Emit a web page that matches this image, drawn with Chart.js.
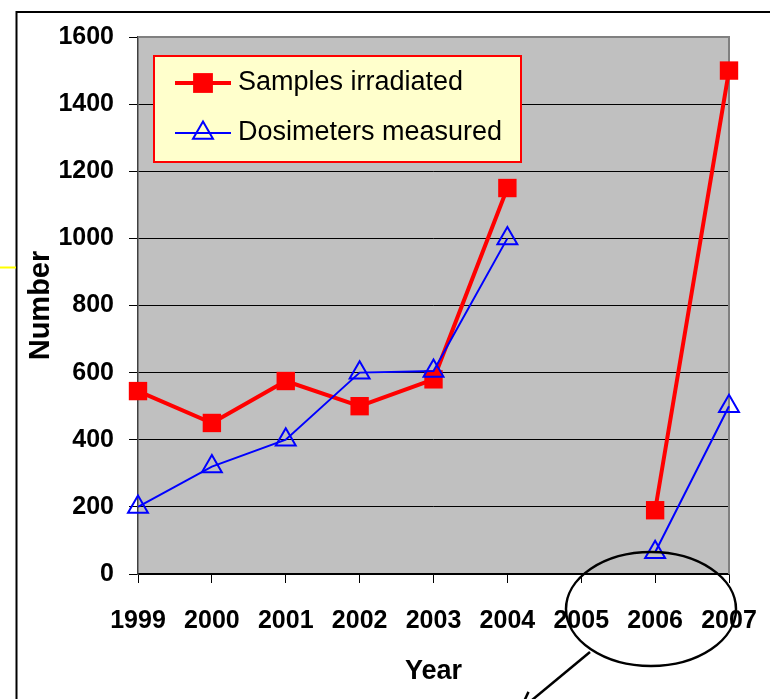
<!DOCTYPE html>
<html>
<head>
<meta charset="utf-8">
<script src="https://cdn.jsdelivr.net/npm/chart.js@4.4.1/dist/chart.umd.min.js"></script>
<style>
  html, body { margin: 0; padding: 0; background: #ffffff; }
  #wrap { width: 770px; height: 699px; position: relative; }
  canvas { display: block; }
</style>
</head>
<body>
<div id="wrap"><canvas id="c" width="770" height="699"></canvas></div>
<script>
// ---- data ----
const years = ['1999', '2000', '2001', '2002', '2003', '2004', '2005', '2006', '2007'];
const samplesIrradiated = [545, 450, 575, 500, 580, 1150, null, 190, 1500];
const dosimetersMeasured = [200, 320, 400, 600, 605, 1000, null, 65, 500];
const yTickValues = [0, 200, 400, 600, 800, 1000, 1200, 1400, 1600];
const seriesLabels = ['Samples irradiated', 'Dosimeters measured'];
const xTitle = 'Year';
const yTitle = 'Number';

const FONT = "'Liberation Sans', Arial, Helvetica, sans-serif";
Chart.defaults.font.family = FONT;
Chart.defaults.color = '#000';

// plot background + border
const plotFrame = {
  id: 'plotFrame',
  beforeDraw(chart) {
    const { ctx, chartArea: a } = chart;
    ctx.save();
    ctx.fillStyle = '#ffffff';
    ctx.fillRect(0, 0, chart.width, chart.height);
    ctx.fillStyle = '#C0C0C0';
    ctx.fillRect(a.left, a.top, a.right - a.left, a.bottom - a.top);
    ctx.restore();
  },
  beforeDatasetsDraw(chart) {
    const { ctx, chartArea: a } = chart;
    ctx.save();
    ctx.strokeStyle = '#808080';
    ctx.lineWidth = 2;
    ctx.beginPath();
    ctx.moveTo(a.left, a.top);
    ctx.lineTo(a.right, a.top);
    ctx.lineTo(a.right, a.bottom);
    ctx.stroke();
    ctx.restore();
  }
};

function drawMarker(ctx, style, x, y, r, fill, stroke, bw) {
  ctx.beginPath();
  if (style === 'rect') {
    const s = r * Math.SQRT1_2;
    ctx.rect(x - s, y - s, 2 * s, 2 * s);
    ctx.fillStyle = fill;
    ctx.fill();
  } else if (style === 'triangle') {
    let rad = 0;
    ctx.moveTo(x + Math.sin(rad) * r, y - Math.cos(rad) * r);
    rad += 2 * Math.PI / 3;
    ctx.lineTo(x + Math.sin(rad) * r, y - Math.cos(rad) * r);
    rad += 2 * Math.PI / 3;
    ctx.lineTo(x + Math.sin(rad) * r, y - Math.cos(rad) * r);
    ctx.closePath();
    ctx.lineWidth = bw;
    ctx.strokeStyle = stroke;
    ctx.stroke();
  }
}

// legend box inside plot
const boxLegend = {
  id: 'boxLegend',
  afterDatasetsDraw(chart) {
    const { ctx, chartArea: a } = chart;
    const bx = a.left + 16, by = a.top + 19, bw = 367, bh = 106;
    ctx.save();
    ctx.fillStyle = '#FFFFCC';
    ctx.fillRect(bx, by, bw, bh);
    ctx.strokeStyle = '#FF0000';
    ctx.lineWidth = 2;
    ctx.strokeRect(bx, by, bw, bh);
    chart.data.datasets.forEach((ds, i) => {
      const y = by + 27 + i * 50;
      ctx.beginPath();
      ctx.moveTo(bx + 21, y);
      ctx.lineTo(bx + 77, y);
      ctx.strokeStyle = ds.borderColor;
      ctx.lineWidth = ds.borderWidth;
      ctx.stroke();
      drawMarker(ctx, ds.pointStyle, bx + 49, y, ds.pointRadius + (ds.pointStyle === 'rect' ? 1 : 0),
        ds.pointBackgroundColor, ds.pointBorderColor, ds.pointBorderWidth);
      ctx.fillStyle = '#000';
      ctx.font = '27px ' + FONT;
      ctx.textAlign = 'left';
      ctx.textBaseline = 'middle';
      ctx.fillText(ds.label, bx + 84, y);
    });
    ctx.restore();
  }
};

// slide decorations (frame, highlight ellipse, arrow)
const decorations = {
  id: 'decorations',
  afterDraw(chart) {
    const ctx = chart.ctx;
    ctx.save();
    ctx.strokeStyle = '#000';
    ctx.lineWidth = 2;
    ctx.beginPath();
    ctx.moveTo(770, 12);
    ctx.lineTo(16.5, 12);
    ctx.lineTo(16.5, 699);
    ctx.stroke();
    ctx.strokeStyle = '#FFFF00';
    ctx.beginPath();
    ctx.moveTo(0, 267.5);
    ctx.lineTo(16, 267.5);
    ctx.stroke();
    // ellipse
    ctx.strokeStyle = '#000';
    ctx.lineWidth = 2.5;
    ctx.beginPath();
    ctx.ellipse(651, 609, 85, 57, 0, 0, 2 * Math.PI);
    ctx.stroke();
    // arrow
    const x0 = 590, y0 = 652, x1 = 520, y1 = 710;
    ctx.beginPath();
    ctx.moveTo(x0, y0);
    ctx.lineTo(x1, y1);
    ctx.stroke();
    const ang = Math.atan2(y0 - y1, x0 - x1);
    [0.44, -0.44].forEach(d => {
      ctx.beginPath();
      ctx.moveTo(x1, y1);
      ctx.lineTo(x1 + 20 * Math.cos(ang + d), y1 + 20 * Math.sin(ang + d));
      ctx.stroke();
    });
    ctx.restore();
  }
};

new Chart(document.getElementById('c'), {
  type: 'line',
  data: {
    labels: years,
    datasets: [
      {
        label: seriesLabels[0],
        data: samplesIrradiated,
        borderColor: '#FF0000',
        backgroundColor: '#FF0000',
        borderWidth: 4,
        pointStyle: 'rect',
        pointRadius: 13,
        pointBackgroundColor: '#FF0000',
        pointBorderColor: '#FF0000',
        pointBorderWidth: 0,
        spanGaps: false,
        tension: 0,
        order: 1
      },
      {
        label: seriesLabels[1],
        data: dosimetersMeasured,
        borderColor: '#0000FF',
        backgroundColor: 'rgba(0,0,0,0)',
        borderWidth: 2,
        pointStyle: 'triangle',
        pointRadius: 11.5,
        pointBackgroundColor: 'rgba(0,0,0,0)',
        pointBorderColor: '#0000FF',
        pointBorderWidth: 2,
        spanGaps: false,
        tension: 0,
        order: 0
      }
    ]
  },
  options: {
    responsive: false,
    animation: false,
    devicePixelRatio: 1,
    events: [],
    layout: { padding: { top: 37, right: 41, bottom: 0, left: 0 } },
    plugins: { legend: { display: false }, tooltip: { enabled: false } },
    scales: {
      x: {
        type: 'category',
        offset: false,
        afterFit: s => { s.height = 125; s.paddingLeft = 0; s.paddingRight = 0; },
        grid: { drawOnChartArea: false, drawTicks: true, tickLength: 9, color: '#000', lineWidth: 1 },
        border: { display: true, color: '#000', width: 1.5 },
        ticks: { font: { size: 25, weight: 'bold', lineHeight: 1 }, color: '#000', padding: 26, maxRotation: 0, autoSkip: false },
        title: { display: true, text: xTitle, font: { size: 27, weight: 'bold', lineHeight: 1 }, color: '#000', padding: { top: 0, bottom: 13.5 } }
      },
      y: {
        min: yTickValues[0],
        max: yTickValues[yTickValues.length - 1],
        afterBuildTicks: s => { s.ticks = yTickValues.map(v => ({ value: v })); },
        afterFit: s => { s.width = 138; s.paddingTop = 0; s.paddingBottom = 0; },
        grid: { color: '#000', lineWidth: 1, drawTicks: true, tickLength: 9 },
        border: { display: true, color: '#404040', width: 1.5 },
        ticks: { font: { size: 25, weight: 'bold', lineHeight: 1 }, color: '#000', padding: 15, callback: v => String(v) },
        title: { display: true, text: yTitle, font: { size: 29, weight: 'bold', lineHeight: 1 }, color: '#000', padding: { top: 26.5, bottom: 0 } }
      }
    }
  },
  plugins: [plotFrame, boxLegend, decorations]
});
</script>
</body>
</html>
